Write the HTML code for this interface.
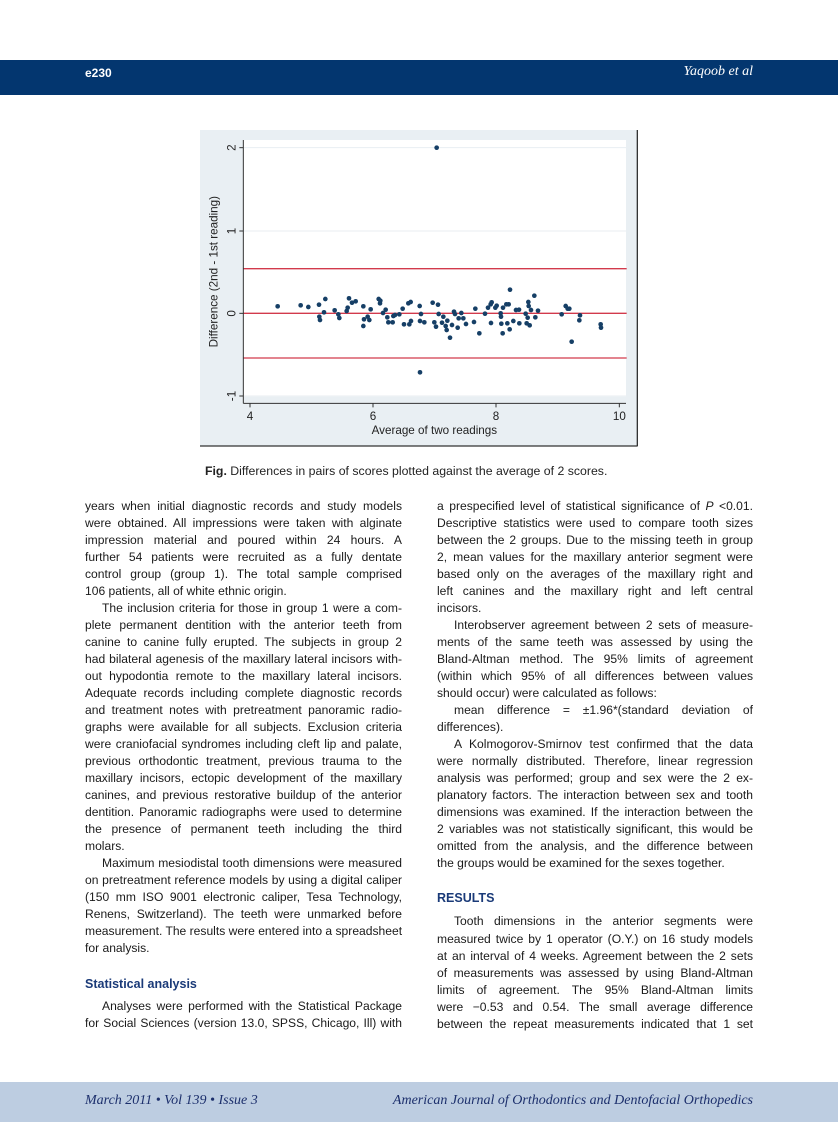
<!DOCTYPE html>
<html><head><meta charset="utf-8"><style>
body{margin:0;width:838px;height:1122px;background:#fff;position:relative;overflow:hidden;font-family:"Liberation Sans",sans-serif;}
.hdr{position:absolute;left:0;top:60px;width:838px;height:35px;background:#03366f;}
.ftr{position:absolute;left:0;top:1082px;width:838px;height:40px;background:#bdcde1;}
.l{position:absolute;height:17px;line-height:17px;font-size:12.1px;color:#1a1a1a;white-space:nowrap;}
.L{left:85px;width:317px;}
.R{left:437px;width:316px;}
.j{text-align:justify;text-align-last:justify;}
.i{text-indent:17px;}
.h{font-weight:bold;color:#1a3a78;font-size:12.5px;}
</style></head><body>
<div class="hdr"></div>
<div style="position:absolute;left:85px;top:66px;color:#fff;font-weight:bold;font-size:12px;">e230</div>
<div style="position:absolute;right:85px;top:64px;color:#fff;font-style:italic;font-family:'Liberation Serif',serif;font-size:14px;">Yaqoob et al</div>

<svg style="position:absolute;left:200px;top:130px" width="440" height="320" viewBox="0 0 1320 960">
<rect x="0" y="0" width="1313" height="948" fill="#e9eff3"/>
<line x1="1312" y1="0" x2="1312" y2="948" stroke="#333" stroke-width="4"/>
<line x1="0" y1="948" x2="1313" y2="948" stroke="#333" stroke-width="4"/>
<rect x="130" y="30" width="1148" height="770" fill="#fff"/>
<g stroke="#e8eef2" stroke-width="3"><line x1="130" y1="53" x2="1278" y2="53"/><line x1="130" y1="303" x2="1278" y2="303"/><line x1="130" y1="798" x2="1278" y2="798"/></g>
<g stroke="#d23a4c" stroke-width="4"><line x1="130" y1="416" x2="1280" y2="416"/><line x1="130" y1="550" x2="1280" y2="550"/><line x1="130" y1="684" x2="1280" y2="684"/></g>
<g stroke="#333" stroke-width="3"><line x1="130" y1="30" x2="130" y2="820"/><line x1="130" y1="820" x2="1278" y2="820"/>
<line x1="118" y1="53" x2="130" y2="53"/><line x1="118" y1="303" x2="130" y2="303"/><line x1="118" y1="550" x2="130" y2="550"/><line x1="118" y1="798" x2="130" y2="798"/>
<line x1="150" y1="820" x2="150" y2="832"/><line x1="519" y1="820" x2="519" y2="832"/><line x1="888" y1="820" x2="888" y2="832"/><line x1="1258" y1="820" x2="1258" y2="832"/></g>
<g font-family="Liberation Sans,sans-serif" font-size="35" fill="#222" text-anchor="middle">
<text x="150" y="870">4</text><text x="519" y="870">6</text><text x="888" y="870">8</text><text x="1258" y="870">10</text>
<text x="703" y="912">Average of two readings</text>
<text transform="translate(106,53) rotate(-90)">2</text>
<text transform="translate(106,303) rotate(-90)">1</text>
<text transform="translate(106,550) rotate(-90)">0</text>
<text transform="translate(106,798) rotate(-90)">-1</text>
<text transform="translate(52,425) rotate(-90)">Difference (2nd - 1st reading)</text>
</g>
<g fill="#163f66">
<circle cx="233" cy="529" r="7"/><circle cx="302" cy="526" r="7"/><circle cx="325" cy="531" r="7"/><circle cx="357" cy="524" r="7"/><circle cx="358" cy="560" r="7"/><circle cx="360" cy="570" r="7"/><circle cx="372" cy="547" r="7"/><circle cx="376" cy="507" r="7"/><circle cx="404" cy="541" r="7"/><circle cx="415" cy="553" r="7"/><circle cx="418" cy="564" r="7"/><circle cx="440" cy="543" r="7"/><circle cx="443" cy="533" r="7"/><circle cx="447" cy="505" r="7"/><circle cx="456" cy="518" r="7"/><circle cx="467" cy="514" r="7"/><circle cx="490" cy="529" r="7"/><circle cx="490" cy="588" r="7"/><circle cx="492" cy="568" r="7"/><circle cx="503" cy="560" r="7"/><circle cx="508" cy="570" r="7"/><circle cx="512" cy="538" r="7"/><circle cx="536" cy="507" r="7"/><circle cx="540" cy="520" r="7"/><circle cx="541" cy="512" r="7"/><circle cx="549" cy="549" r="7"/><circle cx="557" cy="539" r="7"/><circle cx="562" cy="562" r="7"/><circle cx="565" cy="577" r="7"/><circle cx="578" cy="577" r="7"/><circle cx="580" cy="558" r="7"/><circle cx="585" cy="555" r="7"/><circle cx="598" cy="553" r="7"/><circle cx="608" cy="536" r="7"/><circle cx="612" cy="583" r="7"/><circle cx="625" cy="520" r="7"/><circle cx="628" cy="583" r="7"/><circle cx="632" cy="516" r="7"/><circle cx="633" cy="573" r="7"/><circle cx="659" cy="528" r="7"/><circle cx="660" cy="573" r="7"/><circle cx="663" cy="552" r="7"/><circle cx="673" cy="577" r="7"/><circle cx="698" cy="518" r="7"/><circle cx="703" cy="577" r="7"/><circle cx="708" cy="590" r="7"/><circle cx="710" cy="53" r="7"/><circle cx="714" cy="524" r="7"/><circle cx="716" cy="552" r="7"/><circle cx="726" cy="578" r="7"/><circle cx="730" cy="560" r="7"/><circle cx="737" cy="588" r="7"/><circle cx="740" cy="600" r="7"/><circle cx="742" cy="572" r="7"/><circle cx="750" cy="623" r="7"/><circle cx="756" cy="585" r="7"/><circle cx="762" cy="545" r="7"/><circle cx="765" cy="552" r="7"/><circle cx="773" cy="593" r="7"/><circle cx="776" cy="565" r="7"/><circle cx="784" cy="549" r="7"/><circle cx="790" cy="565" r="7"/><circle cx="798" cy="582" r="7"/><circle cx="822" cy="576" r="7"/><circle cx="826" cy="536" r="7"/><circle cx="838" cy="610" r="7"/><circle cx="855" cy="551" r="7"/><circle cx="864" cy="533" r="7"/><circle cx="872" cy="523" r="7"/><circle cx="875" cy="517" r="7"/><circle cx="873" cy="579" r="7"/><circle cx="886" cy="533" r="7"/><circle cx="890" cy="527" r="7"/><circle cx="902" cy="550" r="7"/><circle cx="903" cy="560" r="7"/><circle cx="904" cy="581" r="7"/><circle cx="908" cy="610" r="7"/><circle cx="909" cy="533" r="7"/><circle cx="919" cy="523" r="7"/><circle cx="922" cy="580" r="7"/><circle cx="926" cy="523" r="7"/><circle cx="929" cy="598" r="7"/><circle cx="930" cy="479" r="7"/><circle cx="940" cy="573" r="7"/><circle cx="948" cy="540" r="7"/><circle cx="957" cy="539" r="7"/><circle cx="958" cy="580" r="7"/><circle cx="977" cy="551" r="7"/><circle cx="980" cy="580" r="7"/><circle cx="983" cy="563" r="7"/><circle cx="985" cy="516" r="7"/><circle cx="986" cy="528" r="7"/><circle cx="989" cy="586" r="7"/><circle cx="993" cy="540" r="7"/><circle cx="1003" cy="497" r="7"/><circle cx="1006" cy="562" r="7"/><circle cx="1014" cy="542" r="7"/><circle cx="660" cy="727" r="7"/><circle cx="1085" cy="553" r="7"/><circle cx="1097" cy="528" r="7"/><circle cx="1103" cy="536" r="7"/><circle cx="1108" cy="536" r="7"/><circle cx="1115" cy="635" r="7"/><circle cx="1138" cy="571" r="7"/><circle cx="1140" cy="556" r="7"/><circle cx="1202" cy="583" r="7"/><circle cx="1203" cy="593" r="7"/>
</g>
</svg>

<div style="position:absolute;left:205px;top:464px;font-size:12.3px;color:#222;"><b>Fig.</b> Differences in pairs of scores plotted against the average of 2 scores.</div>

<div class="l L j" style="top:498px">years when initial diagnostic records and study models</div>
<div class="l L j" style="top:515px">were obtained. All impressions were taken with alginate</div>
<div class="l L j" style="top:532px">impression material and poured within 24 hours. A</div>
<div class="l L j" style="top:549px">further 54 patients were recruited as a fully dentate</div>
<div class="l L j" style="top:566px">control group (group 1). The total sample comprised</div>
<div class="l L" style="top:583px">106 patients, all of white ethnic origin.</div>
<div class="l L j i" style="top:600px">The inclusion criteria for those in group 1 were a com-</div>
<div class="l L j" style="top:617px">plete permanent dentition with the anterior teeth from</div>
<div class="l L j" style="top:634px">canine to canine fully erupted. The subjects in group 2</div>
<div class="l L j" style="top:651px">had bilateral agenesis of the maxillary lateral incisors with-</div>
<div class="l L j" style="top:668px">out hypodontia remote to the maxillary lateral incisors.</div>
<div class="l L j" style="top:685px">Adequate records including complete diagnostic records</div>
<div class="l L j" style="top:702px">and treatment notes with pretreatment panoramic radio-</div>
<div class="l L j" style="top:719px">graphs were available for all subjects. Exclusion criteria</div>
<div class="l L j" style="top:736px">were craniofacial syndromes including cleft lip and palate,</div>
<div class="l L j" style="top:753px">previous orthodontic treatment, previous trauma to the</div>
<div class="l L j" style="top:770px">maxillary incisors, ectopic development of the maxillary</div>
<div class="l L j" style="top:787px">canines, and previous restorative buildup of the anterior</div>
<div class="l L j" style="top:804px">dentition. Panoramic radiographs were used to determine</div>
<div class="l L j" style="top:821px">the presence of permanent teeth including the third</div>
<div class="l L" style="top:838px">molars.</div>
<div class="l L j i" style="top:855px">Maximum mesiodistal tooth dimensions were measured</div>
<div class="l L j" style="top:872px">on pretreatment reference models by using a digital caliper</div>
<div class="l L j" style="top:889px">(150 mm ISO 9001 electronic caliper, Tesa Technology,</div>
<div class="l L j" style="top:906px">Renens, Switzerland). The teeth were unmarked before</div>
<div class="l L j" style="top:923px">measurement. The results were entered into a spreadsheet</div>
<div class="l L" style="top:940px">for analysis.</div>
<div class="l L h" style="top:976px">Statistical analysis</div>
<div class="l L j i" style="top:998px">Analyses were performed with the Statistical Package</div>
<div class="l L j" style="top:1015px">for Social Sciences (version 13.0, SPSS, Chicago, Ill) with</div>

<div class="l R j" style="top:498px">a prespecified level of statistical significance of <i>P</i> &lt;0.01.</div>
<div class="l R j" style="top:515px">Descriptive statistics were used to compare tooth sizes</div>
<div class="l R j" style="top:532px">between the 2 groups. Due to the missing teeth in group</div>
<div class="l R j" style="top:549px">2, mean values for the maxillary anterior segment were</div>
<div class="l R j" style="top:566px">based only on the averages of the maxillary right and</div>
<div class="l R j" style="top:583px">left canines and the maxillary right and left central</div>
<div class="l R" style="top:600px">incisors.</div>
<div class="l R j i" style="top:617px">Interobserver agreement between 2 sets of measure-</div>
<div class="l R j" style="top:634px">ments of the same teeth was assessed by using the</div>
<div class="l R j" style="top:651px">Bland-Altman method. The 95% limits of agreement</div>
<div class="l R j" style="top:668px">(within which 95% of all differences between values</div>
<div class="l R" style="top:685px">should occur) were calculated as follows:</div>
<div class="l R j i" style="top:702px">mean difference = ±1.96*(standard deviation of</div>
<div class="l R" style="top:719px">differences).</div>
<div class="l R j i" style="top:736px">A Kolmogorov-Smirnov test confirmed that the data</div>
<div class="l R j" style="top:753px">were normally distributed. Therefore, linear regression</div>
<div class="l R j" style="top:770px">analysis was performed; group and sex were the 2 ex-</div>
<div class="l R j" style="top:787px">planatory factors. The interaction between sex and tooth</div>
<div class="l R j" style="top:804px">dimensions was examined. If the interaction between the</div>
<div class="l R j" style="top:821px">2 variables was not statistically significant, this would be</div>
<div class="l R j" style="top:838px">omitted from the analysis, and the difference between</div>
<div class="l R" style="top:855px">the groups would be examined for the sexes together.</div>
<div class="l R h" style="top:890px">RESULTS</div>
<div class="l R j i" style="top:913px">Tooth dimensions in the anterior segments were</div>
<div class="l R j" style="top:931px">measured twice by 1 operator (O.Y.) on 16 study models</div>
<div class="l R j" style="top:948px">at an interval of 4 weeks. Agreement between the 2 sets</div>
<div class="l R j" style="top:965px">of measurements was assessed by using Bland-Altman</div>
<div class="l R j" style="top:982px">limits of agreement. The 95% Bland-Altman limits</div>
<div class="l R j" style="top:999px">were −0.53 and 0.54. The small average difference</div>
<div class="l R j" style="top:1016px">between the repeat measurements indicated that 1 set</div>

<div class="ftr"></div>
<div style="position:absolute;left:85px;top:1093px;color:#1c2f6c;font-style:italic;font-family:'Liberation Serif',serif;font-size:14px;">March 2011 • Vol 139 • Issue 3</div>
<div style="position:absolute;right:85px;top:1093px;color:#1c2f6c;font-style:italic;font-family:'Liberation Serif',serif;font-size:14px;">American Journal of Orthodontics and Dentofacial Orthopedics</div>
</body></html>
